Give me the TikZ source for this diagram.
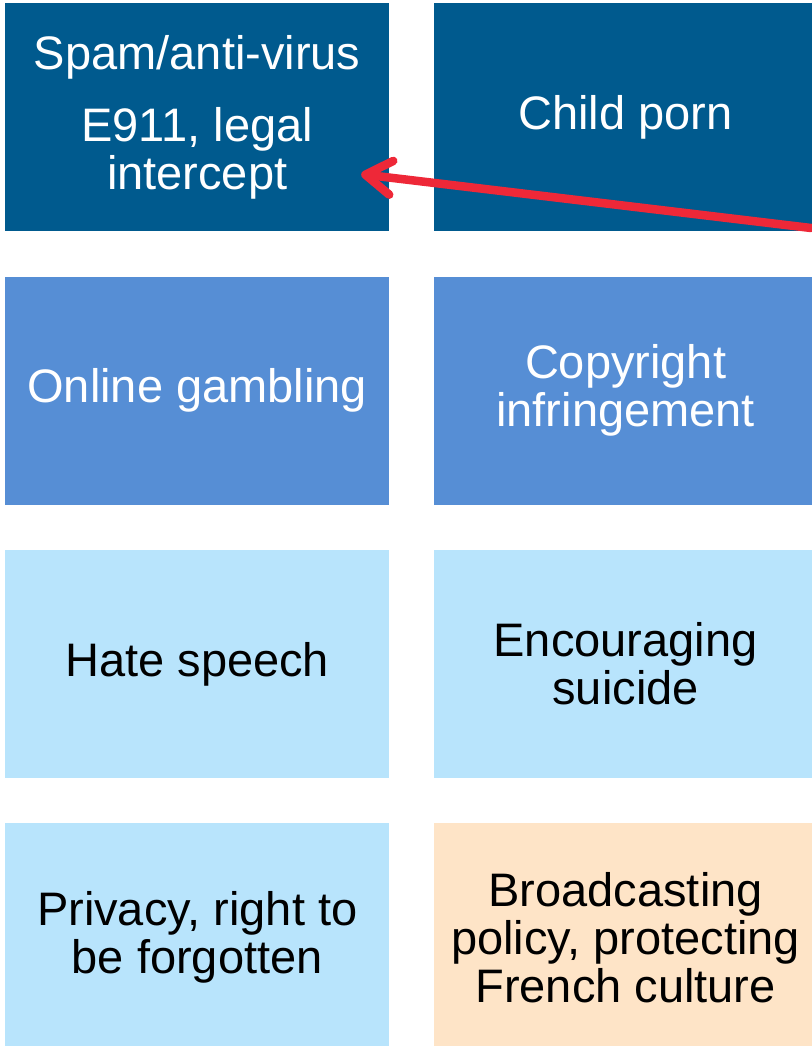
\documentclass[tikz,border=0pt]{standalone}
\usepackage{fontspec}
\setmainfont{Liberation Sans}
\usepackage{xcolor}
\usetikzlibrary{arrows.meta, positioning}

\definecolor{darkblue}{RGB}{0,90,142}
\definecolor{midblue}{RGB}{86,142,213}
\definecolor{lightblue}{RGB}{184,228,252}
\definecolor{peach}{RGB}{254,228,199}
\definecolor{markred}{RGB}{238,40,56}

\begin{document}
\begin{tikzpicture}[
    node distance=45pt and 44pt,
    every node/.style={font=\fontsize{47}{48}\selectfont},
    box/.style={
        rectangle, inner sep=0pt, align=center,
        minimum height=228pt, minimum width=384pt
    },
    darkbox/.style={box, fill=darkblue, text=white},
    midbox/.style={box, fill=midblue, text=white},
    lightbox/.style={box, fill=lightblue, text=black},
    peachbox/.style={box, fill=peach, text=black},
    redarrow/.style={
        draw=markred, line width=8.5pt, line cap=round,
        -{Straight Barb[length=26pt, width=34pt, round]},
        preaction={draw=black, opacity=.18,
            transform canvas={shift={(2pt,-3pt)}}}
    }
]
\useasboundingbox (0,0) rectangle (811pt,-1046pt);

% Row 1
\node[darkbox, anchor=north west] (spam) at (5pt,-3pt) {
    Spam/anti-virus\\[24pt]
    E911, legal\\
    intercept
};
\node[darkbox, right=of spam] (childporn) {Child porn};

% Row 2
\node[midbox, below=of spam] (gambling) {Online gambling};
\node[midbox, right=of gambling] (copyright) {
    Copyright\\
    infringement
};

% Row 3
\node[lightbox, below=of gambling] (hate) {Hate speech};
\node[lightbox, right=of hate] (suicide) {
    Encouraging\\
    suicide
};

% Row 4
\node[lightbox, below=of hate] (privacy) {
    Privacy, right to\\
    be forgotten
};
\node[peachbox, right=of privacy] (broadcast) {
    Broadcasting\\
    policy, protecting\\
    French culture
};

% Arrow
\coordinate (arrowstart) at (811pt,-228pt);
\coordinate (arrowtip) at ([shift={(164pt,-57pt)}]spam.center);
\draw[redarrow] (arrowstart) -- (arrowtip);

\end{tikzpicture}
\end{document}
